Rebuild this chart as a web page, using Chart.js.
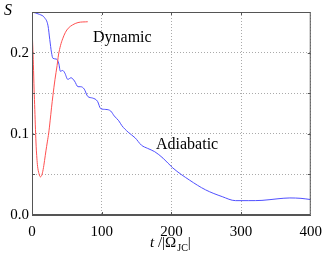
<!DOCTYPE html>
<html>
<head>
<meta charset="utf-8">
<script src="https://cdn.jsdelivr.net/npm/chart.js@4.4.1/dist/chart.umd.min.js"></script>
<style>
  html, body { margin: 0; padding: 0; background: #fff; }
  canvas { display: block; }
</style>
</head>
<body>
<canvas id="grafico" width="330" height="254"></canvas>
<script>
// --- dados ---
const tDinamico = [0, 1, 2, 3, 4, 5, 6, 7, 8, 10, 12, 14, 16, 18, 20, 22, 24, 26, 28, 30, 33, 36, 38, 41, 44, 48, 52, 58, 66, 80];
const sDinamico = [0.231, 0.21, 0.185, 0.155, 0.13, 0.105, 0.084, 0.07, 0.06, 0.051, 0.047, 0.049, 0.056, 0.067, 0.079, 0.09, 0.101, 0.116, 0.132, 0.147, 0.167, 0.184, 0.197, 0.209, 0.217, 0.225, 0.23, 0.234, 0.237, 0.238];

const tAdiabatico = [0, 11, 18, 23, 25.5, 28, 30, 35, 38.6, 40.6, 44, 47, 51.4, 56, 61, 66, 70, 75, 80, 87, 94, 98.6, 106, 113, 118, 124.5, 129, 138, 148, 157, 166, 176, 188, 202, 226, 249, 273, 292, 311, 330, 353, 370, 386, 400];
const sAdiabatico = [0.25, 0.247, 0.243, 0.233, 0.216, 0.2, 0.193, 0.192, 0.186, 0.177, 0.178, 0.175, 0.167, 0.169, 0.165, 0.158, 0.158, 0.155, 0.146, 0.144, 0.14, 0.131, 0.13, 0.128, 0.122, 0.116, 0.11, 0.102, 0.095, 0.086, 0.082, 0.078, 0.07, 0.058, 0.043, 0.031, 0.0226, 0.0177, 0.0177, 0.018, 0.02, 0.021, 0.0205, 0.019];

const ticksX = [0, 100, 200, 300, 400];
const ticksY = [0.0, 0.1, 0.2];

const fonte = '"Liberation Serif", "Times New Roman", serif';

function pontos(xs, ys) {
    return xs.map((x, i) => ({ x: x, y: ys[i] }));
}

// moldura, marcas internas e textos
const moldura = {
    id: 'moldura',
    afterDraw(chart) {
        const { ctx, chartArea: a, scales } = chart;
        ctx.save();
        ctx.strokeStyle = '#555';
        ctx.lineWidth = 1;
        ctx.strokeRect(a.left + 0.5, a.top + 0.5, a.right - a.left - 1, a.bottom - a.top - 1);

        // marquinhas para dentro
        ctx.beginPath();
        for (let v = 100; v < 400; v += 100) {
            const px = Math.round(scales.x.getPixelForValue(v)) + 0.5;
            ctx.moveTo(px, a.bottom); ctx.lineTo(px, a.bottom - 3);
            ctx.moveTo(px, a.top); ctx.lineTo(px, a.top + 3);
        }
        for (let v = 0.05; v < 0.249; v += 0.05) {
            const py = Math.round(scales.y.getPixelForValue(v)) + 0.5;
            ctx.moveTo(a.left, py); ctx.lineTo(a.left + 3, py);
            ctx.moveTo(a.right, py); ctx.lineTo(a.right - 3, py);
        }
        ctx.stroke();

        ctx.fillStyle = '#000';
        ctx.textBaseline = 'alphabetic';
        ctx.font = 'italic 16px ' + fonte;
        ctx.fillText('S', 4, 15);

        ctx.font = '16px ' + fonte;
        ctx.fillText('Dynamic', 93, 42);
        ctx.fillText('Adiabatic', 156, 149);

        // t / |Ω_JC|
        let x = 150;
        const base = 247;
        ctx.font = 'italic 15px ' + fonte;
        ctx.fillText('t', x, base); x += ctx.measureText('t ').width;
        ctx.font = '15px ' + fonte;
        ctx.fillText('/|Ω', x, base); x += ctx.measureText('/|Ω').width + 1;
        ctx.font = '10px ' + fonte;
        ctx.fillText('JC', x, base + 4); x += ctx.measureText('JC').width;
        ctx.font = '15px ' + fonte;
        ctx.fillText('|', x, base);
        ctx.restore();
    }
};

new Chart(document.getElementById('grafico'), {
    type: 'line',
    data: {
        datasets: [
            {
                label: 'Dynamic',
                data: pontos(tDinamico, sDinamico),
                borderColor: 'rgb(255, 80, 80)',
                borderWidth: 1,
                pointRadius: 0,
                cubicInterpolationMode: 'monotone',
                fill: false
            },
            {
                label: 'Adiabatic',
                data: pontos(tAdiabatico, sAdiabatico),
                borderColor: 'rgb(80, 80, 255)',
                borderWidth: 1,
                pointRadius: 0,
                cubicInterpolationMode: 'monotone',
                fill: false
            }
        ]
    },
    options: {
        responsive: false,
        animation: false,
        devicePixelRatio: 1,
        layout: { padding: { top: 12, right: 15, left: 0, bottom: 0 } },
        plugins: { legend: { display: false }, tooltip: { enabled: false } },
        scales: {
            x: {
                type: 'linear', min: 0, max: 400,
                afterBuildTicks: s => { s.ticks = ticksX.map(v => ({ value: v })); },
                afterFit: s => { s.height = 39; },
                ticks: { color: '#000', font: { family: fonte, size: 15 }, padding: 8, maxRotation: 0 },
                grid: { color: '#aaa', drawTicks: false },
                border: { display: true, color: '#555', dash: [1, 2] }
            },
            y: {
                min: 0, max: 0.25,
                afterBuildTicks: s => { s.ticks = [0, 0.05, 0.1, 0.15, 0.2, 0.25].map(v => ({ value: v })); },
                afterFit: s => { s.width = 32; },
                ticks: {
                    color: '#000', font: { family: fonte, size: 15 }, padding: 3,
                    callback: v => ticksY.some(t => Math.abs(t - v) < 1e-9) ? v.toFixed(1) : ''
                },
                grid: { color: '#aaa', drawTicks: false },
                border: { display: true, color: '#555', dash: [1, 2] }
            }
        }
    },
    plugins: [moldura]
});
</script>
</body>
</html>
